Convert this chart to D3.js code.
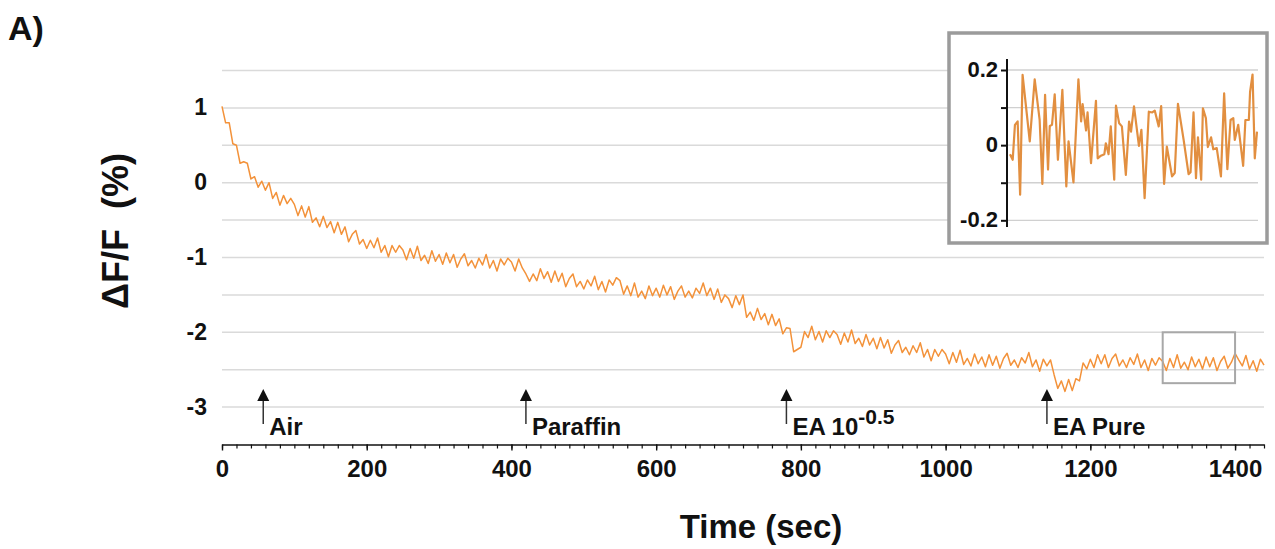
<!DOCTYPE html>
<html>
<head>
<meta charset="utf-8">
<script src="https://cdn.jsdelivr.net/npm/d3@7"></script>
<style>
  html, body { margin: 0; padding: 0; background: #fff; }
  svg { display: block; }
  text { font-family: "Liberation Sans", Arial, Helvetica, sans-serif; font-weight: bold; fill: #111; }
</style>
</head>
<body>
<script>
// ---------------- DATA ----------------
const sampleStep = 5; // seconds between samples of the main trace
const traceValues = [
  1.02,0.80,0.80,0.52,0.50,0.26,0.28,0.26,0.05,0.08,
  -0.06,0.02,-0.10,0.00,-0.21,-0.13,-0.30,-0.17,-0.28,-0.21,
  -0.29,-0.44,-0.31,-0.46,-0.32,-0.53,-0.47,-0.59,-0.45,-0.60,
  -0.52,-0.67,-0.53,-0.69,-0.59,-0.79,-0.69,-0.64,-0.82,-0.76,
  -0.88,-0.77,-0.87,-0.74,-0.93,-0.84,-0.99,-0.84,-0.93,-0.84,
  -0.90,-1.03,-0.88,-1.01,-0.85,-1.04,-0.97,-1.08,-0.91,-1.05,
  -0.96,-1.09,-0.94,-1.07,-0.96,-1.13,-1.02,-0.95,-1.11,-1.04,
  -1.14,-1.01,-1.10,-0.96,-1.14,-1.04,-1.18,-1.02,-1.10,-1.01,
  -1.06,-1.18,-1.02,-1.14,-1.22,-1.32,-1.22,-1.31,-1.15,-1.28,
  -1.19,-1.33,-1.18,-1.32,-1.21,-1.39,-1.28,-1.22,-1.39,-1.32,
  -1.42,-1.30,-1.38,-1.25,-1.43,-1.32,-1.46,-1.30,-1.37,-1.27,
  -1.31,-1.49,-1.38,-1.51,-1.34,-1.53,-1.45,-1.55,-1.38,-1.51,
  -1.41,-1.53,-1.37,-1.50,-1.39,-1.56,-1.45,-1.38,-1.53,-1.45,
  -1.54,-1.41,-1.48,-1.34,-1.51,-1.41,-1.56,-1.42,-1.60,-1.50,
  -1.55,-1.67,-1.51,-1.63,-1.50,-1.80,-1.73,-1.84,-1.68,-1.83,
  -1.75,-1.90,-1.76,-1.91,-1.82,-2.02,-1.94,-1.95,-2.26,-2.23,
  -2.20,-1.99,-2.07,-1.92,-2.10,-1.99,-2.13,-1.98,-2.07,-1.98,
  -2.03,-2.16,-2.01,-2.13,-1.97,-2.15,-2.08,-2.19,-2.03,-2.17,
  -2.08,-2.22,-2.07,-2.21,-2.10,-2.28,-2.17,-2.11,-2.27,-2.20,
  -2.30,-2.18,-2.27,-2.14,-2.33,-2.23,-2.38,-2.23,-2.32,-2.23,
  -2.29,-2.42,-2.27,-2.40,-2.24,-2.43,-2.35,-2.45,-2.29,-2.42,
  -2.33,-2.46,-2.30,-2.44,-2.32,-2.48,-2.35,-2.28,-2.44,-2.37,
  -2.47,-2.34,-2.41,-2.27,-2.46,-2.37,-2.52,-2.36,-2.45,-2.37,
  -2.57,-2.75,-2.65,-2.79,-2.63,-2.78,-2.62,-2.65,-2.41,-2.49,
  -2.36,-2.47,-2.30,-2.42,-2.30,-2.47,-2.35,-2.29,-2.45,-2.37,
  -2.47,-2.34,-2.43,-2.29,-2.47,-2.37,-2.51,-2.35,-2.44,-2.34,
  -2.39,-2.51,-2.35,-2.47,-2.30,-2.48,-2.40,-2.50,-2.33,-2.46,
  -2.36,-2.49,-2.33,-2.46,-2.34,-2.51,-2.39,-2.32,-2.48,-2.40,
  -2.28,-2.37,-2.45,-2.31,-2.49,-2.38,-2.52,-2.36,-2.44
];

const xTickLabels = [0, 200, 400, 600, 800, 1000, 1200, 1400];
const yTickLabels = [1, 0, -1, -2, -3];
const yGridValues = [1.5, 1, 0.5, 0, -0.5, -1, -1.5, -2, -2.5, -3];

const eventTimes = [57, 420, 780, 1140];
const eventLabels = ["Air", "Paraffin", "EA 10", "EA Pure"];
const eventSuperscripts = ["", "", "-0.5", ""];

const zoomWindowTime = [1300, 1400];
const zoomWindowValue = [-2.0, -2.68];

const insetTime = [1300.0,1301.1,1302.0,1303.1,1304.1,1305.1,1308.0,1310.0,1312.0,1313.1,
  1314.2,1315.4,1316.1,1317.0,1318.1,1319.4,1321.2,1322.8,1323.7,1325.7,
  1327.7,1328.8,1329.4,1330.8,1331.4,1332.8,1334.8,1335.5,1336.8,1338.2,
  1338.8,1339.9,1340.8,1342.2,1342.9,1344.2,1345.3,1346.9,1348.2,
  1349.0,1350.2,1352.2,1353.2,1354.5,1356.2,1357.6,1358.6,1360.2,1361.2,
  1362.4,1363.5,1365.6,1366.7,1368.0,1370.3,1372.3,1373.1,1374.3,1375.3,
  1376.1,1377.4,1378.1,1379.3,1380.1,1381.4,1382.3,1383.7,1385.4,1386.7,
  1388.0,1389.3,1390.4,1391.0,1392.4,1394.4,1395.3,1396.7,1397.2,1398.2,
  1399.1,1400.0];
const insetValue = [-0.024,-0.039,0.054,0.063,-0.132,0.187,0.010,0.175,0.067,-0.103,
  0.134,-0.065,0.051,0.054,0.135,-0.039,0.147,-0.110,0.010,-0.099,
  0.175,0.063,0.109,0.039,0.087,-0.048,0.118,-0.035,-0.028,-0.024,
  0.005,-0.024,0.050,-0.092,0.105,0.058,0.050,-0.079,0.063,
  0.036,0.103,-0.002,0.041,-0.141,0.089,0.087,0.092,0.050,0.104,
  -0.103,-0.004,-0.083,-0.074,0.110,0.014,-0.077,-0.072,0.087,-0.088,
  0.021,-0.092,0.098,0.072,-0.005,0.021,-0.011,-0.008,-0.083,0.138,
  -0.064,0.067,0.072,0.014,0.054,-0.055,0.067,0.067,0.142,0.188,
  -0.035,0.036];
const insetTickValues = [-0.2, -0.1, 0, 0.1, 0.2];
const insetTickLabels = {"0.2": "0.2", "0": "0", "-0.2": "-0.2"};

// ---------------- DRAW ----------------
const W = 1275, H = 549;
const svg = d3.select("body").append("svg").attr("width", W).attr("height", H);

const x = d3.scaleLinear().domain([0, 1440]).range([222, 1264]);
const y = d3.scaleLinear().domain([-3.5, 1.5]).range([444.5, 70.5]);

// gridlines
svg.append("g").selectAll("line").data(yGridValues).join("line")
  .attr("x1", x(0)).attr("x2", x(1440))
  .attr("y1", d => y(d)).attr("y2", d => y(d))
  .attr("stroke", "#dadada").attr("stroke-width", 1.5);

// y tick labels
svg.append("g").selectAll("text").data(yTickLabels).join("text")
  .attr("x", 207).attr("y", d => y(d)).attr("dy", "0.33em")
  .attr("text-anchor", "end").style("font-size", "23px")
  .text(d => d);

// x axis: minor ticks
const minorTicks = d3.range(0, 1441, 20);
const gxMinor = svg.append("g").attr("transform", `translate(0,${y(-3.5)})`)
  .call(d3.axisBottom(x).tickValues(minorTicks).tickSize(4).tickSizeOuter(0).tickFormat(""));
gxMinor.select(".domain").attr("stroke", "#111").attr("stroke-width", 1.6);
gxMinor.selectAll(".tick line").attr("stroke", "#111").attr("stroke-width", 1.2);

const gxMajor = svg.append("g").attr("transform", `translate(0,${y(-3.5)})`)
  .call(d3.axisBottom(x).tickValues(xTickLabels).tickSize(6).tickSizeOuter(0).tickFormat(d3.format("d")));
gxMajor.select(".domain").remove();
gxMajor.selectAll(".tick line").attr("stroke", "#111").attr("stroke-width", 1.4);
gxMajor.selectAll(".tick text")
  .attr("y", 32).attr("dy", 0)
  .style("font-size", "24px").style("font-family", "'Liberation Sans', Arial, sans-serif")
  .style("font-weight", "bold").attr("fill", "#111");

// axis titles
svg.append("text").attr("x", 761).attr("y", 538).attr("text-anchor", "middle")
  .style("font-size", "33px").text("Time (sec)");
svg.append("text")
  .attr("transform", "translate(128,231) rotate(-90)")
  .attr("text-anchor", "middle").style("font-size", "36px")
  .attr("xml:space", "preserve")
  .text("\u0394F/F  (%)");

svg.append("text").attr("x", 8).attr("y", 40).style("font-size", "34px").text("A)");

// main trace
const line = d3.line().x((d, i) => x(i * sampleStep)).y(d => y(d));
svg.append("path").datum(traceValues)
  .attr("d", line).attr("fill", "none")
  .attr("stroke", "#f3923a").attr("stroke-width", 1.5).attr("stroke-linejoin", "round");

// zoom window rectangle
svg.append("rect")
  .attr("x", x(zoomWindowTime[0])).attr("y", y(zoomWindowValue[0]))
  .attr("width", x(zoomWindowTime[1]) - x(zoomWindowTime[0]))
  .attr("height", y(zoomWindowValue[1]) - y(zoomWindowValue[0]))
  .attr("fill", "none").attr("stroke", "#a8a8a8").attr("stroke-width", 2);

// event arrows
const ev = svg.append("g").selectAll("g").data(eventTimes).join("g")
  .attr("transform", d => `translate(${x(d)},0)`);
ev.append("line").attr("x1", 0).attr("x2", 0).attr("y1", 400).attr("y2", 424)
  .attr("stroke", "#333").attr("stroke-width", 1.5);
ev.append("path").attr("d", "M0,389 L6,401 L-6,401 Z").attr("fill", "#111");
const evText = ev.append("text").attr("x", 6).attr("y", 435).style("font-size", "24px");
evText.append("tspan").text((d, i) => eventLabels[i]);
evText.append("tspan").attr("dy", -11).style("font-size", "21px")
  .text((d, i) => eventSuperscripts[i]);

// ---------------- INSET ----------------
svg.append("rect").attr("x", 949).attr("y", 33).attr("width", 318).attr("height", 210)
  .attr("fill", "#fff").attr("stroke", "#9b9b9b").attr("stroke-width", 3.5);

const xi = d3.scaleLinear().domain([1300, 1400]).range([1010, 1257]);
const yi = d3.scaleLinear().domain([-0.2, 0.2]).range([220.3, 70]);

svg.append("g").selectAll("line").data(insetTickValues).join("line")
  .attr("x1", 1007).attr("x2", 1258)
  .attr("y1", d => yi(d)).attr("y2", d => yi(d))
  .attr("stroke", "#d0d0d0").attr("stroke-width", 1.3);

const gyi = svg.append("g").attr("transform", "translate(1007,0)")
  .call(d3.axisLeft(yi).tickValues(insetTickValues).tickSize(6).tickSizeOuter(0)
    .tickFormat(d => insetTickLabels[String(d)] || ""));
gyi.select(".domain").remove();
gyi.append("line").attr("x1", 0).attr("x2", 0).attr("y1", yi(0.229)).attr("y2", yi(-0.218))
  .attr("stroke", "#111").attr("stroke-width", 2);
gyi.selectAll(".tick line").attr("stroke", "#111").attr("stroke-width", 2);
gyi.selectAll(".tick text").attr("x", -9).attr("dy", "0.3em")
  .style("font-size", "22px").style("font-family", "'Liberation Sans', Arial, sans-serif")
  .style("font-weight", "bold").attr("fill", "#111");

svg.append("path").datum(insetTime.map((t, i) => [t, insetValue[i]]))
  .attr("d", d3.line().x(d => xi(d[0])).y(d => yi(d[1])))
  .attr("fill", "none").attr("stroke", "#e28f40").attr("stroke-width", 2.2)
  .attr("stroke-linejoin", "round");
</script>
</body>
</html>
